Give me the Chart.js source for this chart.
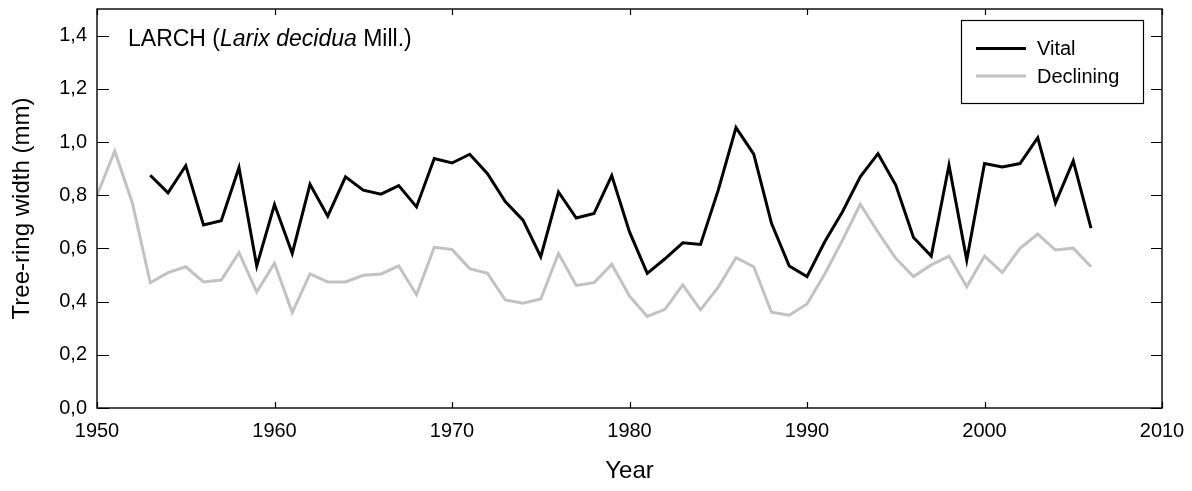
<!DOCTYPE html>
<html>
<head>
<meta charset="utf-8">
<title>Larch tree-ring width</title>
<script src="https://cdn.jsdelivr.net/npm/chart.js@4/dist/chart.umd.min.js"></script>
<style>
  html, body { margin: 0; padding: 0; background: #fff; }
  #wrap { width: 1192px; height: 491px; }
</style>
</head>
<body>
<div id="wrap"><canvas id="c" width="1192" height="491"></canvas></div>
<script>
// Mean tree-ring width (mm) of vital and declining larch trees
const vitalYears = [1953, 1954, 1955, 1956, 1957, 1958, 1959, 1960, 1961, 1962,
  1963, 1964, 1965, 1966, 1967, 1968, 1969, 1970, 1971, 1972, 1973, 1974, 1975,
  1976, 1977, 1978, 1979, 1980, 1981, 1982, 1983, 1984, 1985, 1986, 1987, 1988,
  1989, 1990, 1991, 1992, 1993, 1994, 1995, 1996, 1997, 1998, 1999, 2000, 2001,
  2002, 2003, 2004, 2005, 2006];
const vitalWidth = [0.875, 0.809, 0.911, 0.688, 0.704, 0.904, 0.534, 0.765, 0.581, 0.841,
  0.721, 0.869, 0.819, 0.804, 0.836, 0.756, 0.938, 0.921, 0.954, 0.881, 0.776, 0.706, 0.569,
  0.812, 0.714, 0.731, 0.874, 0.662, 0.506, 0.561, 0.621, 0.615, 0.819, 1.054, 0.954, 0.694,
  0.534, 0.494, 0.625, 0.738, 0.869, 0.956, 0.838, 0.641, 0.571, 0.913, 0.556, 0.919, 0.906,
  0.919, 1.016, 0.771, 0.929, 0.676];

const decliningYears = [1950, 1951, 1952, 1953, 1954, 1955, 1956, 1957, 1958, 1959,
  1960, 1961, 1962, 1963, 1964, 1965, 1966, 1967, 1968, 1969, 1970, 1971, 1972,
  1973, 1974, 1975, 1976, 1977, 1978, 1979, 1980, 1981, 1982, 1983, 1984, 1985,
  1986, 1987, 1988, 1989, 1990, 1991, 1992, 1993, 1994, 1995, 1996, 1997, 1998,
  1999, 2000, 2001, 2002, 2003, 2004, 2005, 2006];
const decliningWidth = [0.800, 0.966, 0.769, 0.471, 0.509, 0.531, 0.474, 0.481, 0.584, 0.436,
  0.544, 0.359, 0.504, 0.474, 0.474, 0.499, 0.504, 0.534, 0.426, 0.604, 0.596, 0.524, 0.506,
  0.406, 0.394, 0.410, 0.581, 0.461, 0.471, 0.540, 0.421, 0.344, 0.371, 0.463, 0.369, 0.454,
  0.565, 0.531, 0.360, 0.349, 0.391, 0.504, 0.631, 0.766, 0.661, 0.563, 0.494, 0.538, 0.571,
  0.456, 0.571, 0.509, 0.600, 0.654, 0.594, 0.601, 0.531];

const xTickValues = [1950, 1960, 1970, 1980, 1990, 2000, 2010];
const yTickValues = [0.0, 0.2, 0.4, 0.6, 0.8, 1.0, 1.2, 1.4];

const FONT = '"Liberation Sans", Arial, Helvetica, sans-serif';

const toPoints = (xs, ys) => xs.map((x, i) => ({ x: x, y: ys[i] }));

// Boxed frame with inward tick marks on all four sides, plus the
// species caption and an in-plot legend.
const framePlugin = {
  id: 'frame',
  afterDraw(chart) {
    const { ctx, chartArea: a, scales } = chart;
    const xs = scales.x, ys = scales.y;
    ctx.save();

    // tick marks pointing into the plot
    ctx.strokeStyle = '#000';
    ctx.lineWidth = 1.2;
    ctx.beginPath();
    xs.ticks.forEach(t => {
      const px = Math.round(xs.getPixelForValue(t.value)) + 0.5;
      ctx.moveTo(px, a.bottom); ctx.lineTo(px, a.bottom - 6);
      ctx.moveTo(px, a.top); ctx.lineTo(px, a.top + 6);
    });
    ys.ticks.forEach(t => {
      const py = Math.round(ys.getPixelForValue(t.value)) + 0.5;
      ctx.moveTo(a.left, py); ctx.lineTo(a.left + 12, py);
      ctx.moveTo(a.right, py); ctx.lineTo(a.right - 11, py);
    });
    ctx.stroke();

    // plot frame
    ctx.lineWidth = 1.4;
    ctx.strokeRect(a.left, a.top, a.right - a.left, a.bottom - a.top);

    // caption: LARCH (Larix decidua Mill.)
    ctx.fillStyle = '#000';
    ctx.textBaseline = 'alphabetic';
    ctx.textAlign = 'left';
    let tx = a.left + 31;
    const ty = a.top + 37;
    const parts = [
      ['LARCH (', 'normal'],
      ['Larix decidua', 'italic'],
      [' Mill.)', 'normal']
    ];
    parts.forEach(([txt, style]) => {
      ctx.font = style + ' 23px ' + FONT;
      ctx.fillText(txt, tx, ty);
      tx += ctx.measureText(txt).width;
    });

    // legend box
    const bx = 961, by = 20, bw = 182, bh = 83;
    ctx.lineWidth = 1.2;
    ctx.strokeRect(bx + 0.5, by + 0.5, bw, bh);
    ctx.font = '20px ' + FONT;
    ctx.textBaseline = 'middle';
    chart.data.datasets.forEach((ds, i) => {
      const ly = by + 28.5 + i * 27.5;
      ctx.strokeStyle = ds.borderColor;
      ctx.lineWidth = ds.borderWidth;
      ctx.beginPath();
      ctx.moveTo(bx + 15, ly);
      ctx.lineTo(bx + 65, ly);
      ctx.stroke();
      ctx.fillStyle = '#000';
      ctx.fillText(ds.label, bx + 76, ly + 1);
    });

    ctx.restore();
  }
};

const fmtComma = v => Number(v).toFixed(1).replace('.', ',');

new Chart(document.getElementById('c'), {
  type: 'line',
  data: {
    datasets: [
      {
        label: 'Vital',
        data: toPoints(vitalYears, vitalWidth),
        borderColor: '#000000',
        borderWidth: 3,
        pointRadius: 0,
        tension: 0,
        fill: false
      },
      {
        label: 'Declining',
        data: toPoints(decliningYears, decliningWidth),
        borderColor: '#c2c2c2',
        borderWidth: 3,
        pointRadius: 0,
        tension: 0,
        fill: false
      }
    ]
  },
  options: {
    responsive: false,
    animation: false,
    devicePixelRatio: 1,
    layout: { padding: { top: 9, right: 30, left: 0, bottom: 0 } },
    plugins: {
      legend: { display: false },
      tooltip: { enabled: false },
      title: { display: false }
    },
    elements: { line: { borderJoinStyle: 'miter', borderCapStyle: 'butt' } },
    scales: {
      x: {
        type: 'linear',
        min: 1950,
        max: 2010,
        grid: { display: false, drawTicks: false },
        border: { display: false },
        afterBuildTicks: s => { s.ticks = xTickValues.map(v => ({ value: v })); },
        afterFit: s => { s.height = 83; s.paddingLeft = 0; s.paddingRight = 0; },
        ticks: {
          padding: 11,
          maxRotation: 0,
          autoSkip: false,
          color: '#000',
          font: { family: FONT, size: 20 },
          callback: v => String(v)
        },
        title: {
          display: true,
          text: 'Year',
          color: '#000',
          font: { family: FONT, size: 24 },
          padding: { top: 0, bottom: 5 }
        }
      },
      y: {
        type: 'linear',
        min: 0,
        max: 1.5,
        grid: { display: false, drawTicks: false },
        border: { display: false },
        afterBuildTicks: s => { s.ticks = yTickValues.map(v => ({ value: v })); },
        afterFit: s => { s.width = 97; s.paddingTop = 0; s.paddingBottom = 0; },
        ticks: {
          padding: 10,
          autoSkip: false,
          color: '#000',
          font: { family: FONT, size: 20 },
          callback: v => fmtComma(v)
        },
        title: {
          display: true,
          text: 'Tree-ring width (mm)',
          color: '#000',
          font: { family: FONT, size: 24 },
          padding: { top: 8, bottom: 0 }
        }
      }
    }
  },
  plugins: [framePlugin]
});
</script>
</body>
</html>
